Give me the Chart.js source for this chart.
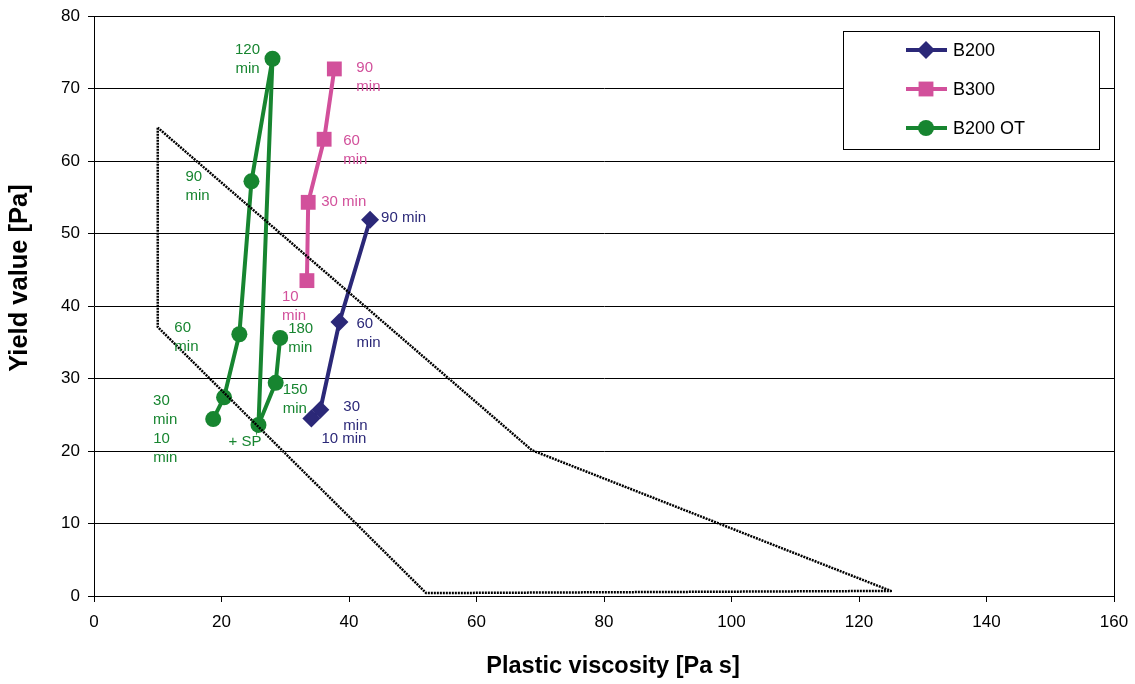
<!DOCTYPE html>
<html>
<head>
<meta charset="utf-8">
<script src="https://cdn.jsdelivr.net/npm/chart.js@4.4.0/dist/chart.umd.min.js"></script>
<style>
  html, body { margin: 0; padding: 0; background: #fff; }
  #wrap { width: 1135px; height: 684px; }
</style>
</head>
<body>
<div id="wrap"><canvas id="chartYield"></canvas></div>
<script>
// values
var b200X = [34.1, 35.5, 38.5, 43.3];
var b200Y = [24.5, 25.7, 37.8, 51.9];
var b200Labels = ['10 min', '30\nmin', '60\nmin', '90 min'];

var b300X = [33.4, 33.6, 36.1, 37.7];
var b300Y = [43.5, 54.3, 63.0, 72.7];
var b300Labels = ['10\nmin', '30 min', '60\nmin', '90\nmin'];

var b200otX = [18.7, 20.4, 22.8, 24.7, 28.0, 25.8, 28.5, 29.2];
var b200otY = [24.4, 27.4, 36.1, 57.2, 74.1, 23.6, 29.4, 35.6];
var b200otLabels = ['10\nmin', '30\nmin', '60\nmin', '90\nmin', '120\nmin', '+ SP', '150\nmin', '180\nmin'];

// dotted region
var zoneX = [10, 10, 52.1, 125, 68.7, 10];
var zoneY = [64.6, 37.1, 0.4, 0.7, 20.1, 64.6];

var xTicks = [0, 20, 40, 60, 80, 100, 120, 140, 160];
var yTicks = [0, 10, 20, 30, 40, 50, 60, 70, 80];

var xTitle = 'Plastic viscosity [Pa s]';
var yTitle = 'Yield value [Pa]';

function pts(xs, ys) {
    return xs.map(function (x, i) { return {x: x, y: ys[i]}; });
}

var blue = '#2b2878';
var pink = '#d2509b';
var green = '#178530';
var FONT = '"Liberation Sans", Arial, sans-serif';

// label offsets from the point (px), align
var labelPos = {
    'B200': [[10, 20, 'left'], [23, -3, 'left'], [17, 2, 'left'], [11, -2, 'left']],
    'B300': [[-25, 16, 'left'], [13, 0, 'left'], [19, 2, 'left'], [22, -1, 'left']],
    'B200 OT': [[-60, 20, 'left'], [-71, 4, 'left'], [-65, -6, 'left'], [-66, -4, 'left'],
                [-25, -9, 'center'], [-30, 17, 'left'], [7, 7, 'left'], [8, -9, 'left']]
};

var pointLabels = {
    id: 'pointLabels',
    afterDatasetsDraw: function (chart) {
        var ctx = chart.ctx;
        ctx.save();
        ctx.font = '15px ' + FONT;
        ctx.textBaseline = 'middle';
        chart.data.datasets.forEach(function (ds, di) {
            if (!ds.pointText) return;
            var meta = chart.getDatasetMeta(di);
            ctx.fillStyle = ds.borderColor;
            ds.pointText.forEach(function (txt, i) {
                var el = meta.data[i];
                var p = labelPos[ds.label][i];
                ctx.textAlign = p[2];
                txt.split('\n').forEach(function (line, k) {
                    ctx.fillText(line, el.x + p[0], el.y + p[1] + k * 19);
                });
            });
        });
        ctx.restore();
    }
};

var frameAndLegend = {
    id: 'frameAndLegend',
    afterDraw: function (chart) {
        var ctx = chart.ctx;
        var a = chart.chartArea;
        ctx.save();
        // right edge of plot
        ctx.strokeStyle = '#000';
        ctx.lineWidth = 1;
        ctx.beginPath();
        ctx.moveTo(a.right + 0.5, a.top);
        ctx.lineTo(a.right + 0.5, a.bottom);
        ctx.stroke();

        // axis titles
        ctx.fillStyle = '#000';
        ctx.textAlign = 'center';
        ctx.textBaseline = 'middle';
        ctx.font = 'bold 23.5px ' + FONT;
        ctx.fillText(xTitle, 613, 667);
        ctx.save();
        ctx.translate(20, 278);
        ctx.rotate(-Math.PI / 2);
        ctx.font = 'bold 25.5px ' + FONT;
        ctx.fillText(yTitle, 0, 0);
        ctx.restore();

        // legend box
        var bx = 843, by = 31, bw = 256, bh = 118;
        ctx.fillStyle = '#fff';
        ctx.fillRect(bx, by, bw, bh);
        ctx.strokeRect(bx + 0.5, by + 0.5, bw, bh);
        ctx.font = '18px ' + FONT;
        ctx.textBaseline = 'middle';
        ctx.textAlign = 'left';
        chart.data.datasets.forEach(function (ds, di) {
            if (!ds.pointText) return;
            var y = 50 + di * 39;
            ctx.strokeStyle = ds.borderColor;
            ctx.lineWidth = 4;
            ctx.beginPath();
            ctx.moveTo(906, y);
            ctx.lineTo(947, y);
            ctx.stroke();
            ctx.fillStyle = ds.borderColor;
            Chart.helpers.drawPoint(ctx, {
                pointStyle: ds.pointStyle, radius: ds.pointRadius, borderWidth: 0
            }, 926, y);
            ctx.fillStyle = '#000';
            ctx.fillText(ds.label, 953, y + 1);
        });
        ctx.restore();
    }
};

var ctx = document.getElementById('chartYield').getContext('2d');
var chart = new Chart(ctx, {
    type: 'scatter',
    data: {
        datasets: [{
            label: 'B200',
            data: pts(b200X, b200Y),
            pointText: b200Labels,
            showLine: true,
            borderColor: blue,
            backgroundColor: blue,
            borderWidth: 4,
            pointStyle: 'rectRot',
            pointRadius: 9,
            pointBorderWidth: 0,
            order: 3
        }, {
            label: 'B300',
            data: pts(b300X, b300Y),
            pointText: b300Labels,
            showLine: true,
            borderColor: pink,
            backgroundColor: pink,
            borderWidth: 4,
            pointStyle: 'rect',
            pointRadius: 10.5,
            pointBorderWidth: 0,
            order: 2
        }, {
            label: 'B200 OT',
            data: pts(b200otX, b200otY),
            pointText: b200otLabels,
            showLine: true,
            borderColor: green,
            backgroundColor: green,
            borderWidth: 4,
            pointStyle: 'circle',
            pointRadius: 8,
            pointBorderWidth: 0,
            order: 1
        }, {
            label: 'zone',
            data: pts(zoneX, zoneY),
            showLine: true,
            borderColor: '#000',
            borderWidth: 2.5,
            borderDash: [2, 1],
            borderJoinStyle: 'round',
            pointRadius: 0,
            order: 0
        }]
    },
    options: {
        responsive: true,
        maintainAspectRatio: false,
        animation: false,
        layout: { padding: { top: 16, right: 21, left: 0, bottom: 0 } },
        plugins: {
            legend: { display: false },
            tooltip: { enabled: false }
        },
        scales: {
            x: {
                type: 'linear',
                min: 0, max: 160,
                afterBuildTicks: function (s) { s.ticks = xTicks.map(function (v) { return {value: v}; }); },
                afterFit: function (s) { s.height = 88; s.paddingLeft = 0; s.paddingRight = 0; },
                grid: { drawOnChartArea: false, color: '#000', tickLength: 6 },
                border: { color: '#000', width: 1 },
                ticks: { color: '#000', padding: 10, maxRotation: 0, font: { size: 17, family: FONT } }
            },
            y: {
                type: 'linear',
                min: 0, max: 80,
                afterBuildTicks: function (s) { s.ticks = yTicks.map(function (v) { return {value: v}; }); },
                afterFit: function (s) { s.width = 94; s.paddingTop = 0; s.paddingBottom = 0; },
                grid: { color: '#000', lineWidth: 1, tickLength: 6 },
                border: { color: '#000', width: 1 },
                ticks: { color: '#000', padding: 8, font: { size: 17, family: FONT } }
            }
        }
    },
    plugins: [pointLabels, frameAndLegend]
});
</script>
</body>
</html>
